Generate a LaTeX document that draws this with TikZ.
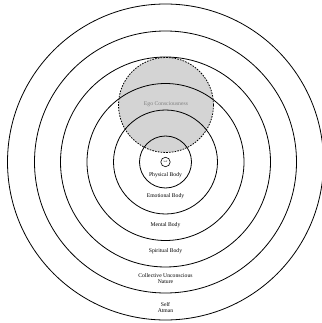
\documentclass[tikz,border=0pt]{standalone}
\usepackage{fontspec}
\setmainfont{Liberation Serif}
\begin{document}
\begin{tikzpicture}[x=1bp,y=1bp,
  ring/.style={circle,draw=black,line width=0.8bp,inner sep=0pt},
  lbl/.style={font=\fontsize{5.7}{6.2}\selectfont,align=center,inner sep=0pt},
  egofill/.style={circle,fill=black!17,inner sep=0pt,minimum size=95bp},
  egoline/.style={circle,draw=black,dashed,dash pattern=on 1.6bp off 1.2bp,line width=0.8bp,inner sep=0pt,minimum size=95bp}]
\useasboundingbox (0,0) rectangle (322,323);
\coordinate (c) at (165.5,161);
\node[egofill] (egoarea) at (166,218) {};
\node[ring,minimum size=316bp] (atman) at (c) {};
\node[ring,minimum size=262bp] (collective) at (c) {};
\node[ring,minimum size=210bp] (spiritual) at (c) {};
\node[ring,minimum size=157bp] (mental) at (c) {};
\node[ring,minimum size=104bp] (emotional) at (c) {};
\node[ring,minimum size=52bp] (physical) at (c) {};
\node[ring,line width=0.6bp,minimum size=9.4bp,font=\fontsize{2.4}{2.6}\selectfont] (self) at (c) {Self};
\node[egoline] (ego) at (166,218) {};
\node[lbl,text=black!50] (egol) at (166,218.5) {Ego Consciousness};
\node[lbl] (physl) at (165.5,148) {Physical Body};
\node[lbl] (emol) at (165.5,127) {Emotional Body};
\node[lbl] (mentl) at (165.5,98) {Mental Body};
\node[lbl] (spirl) at (165.5,71.5) {Spiritual Body};
\node[lbl] (coll) at (165.5,44.5) {Collective Unconscious\\Nature};
\node[lbl] (atl) at (165.5,15.5) {Self\\Atman};
\end{tikzpicture}
\end{document}
